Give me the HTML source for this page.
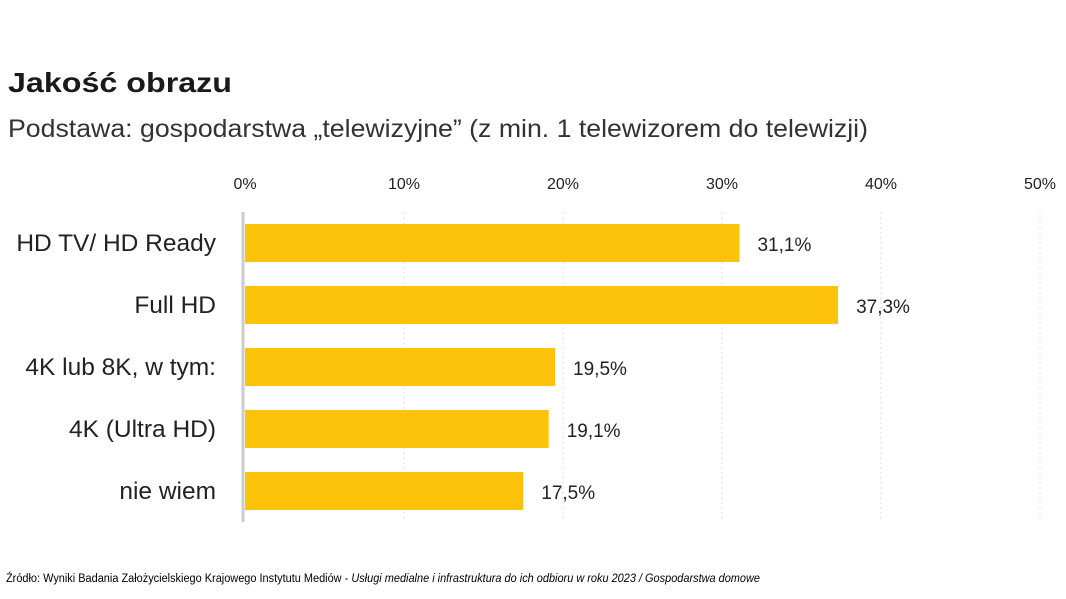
<!DOCTYPE html>
<html><head><meta charset="utf-8"><style>
body{margin:0;width:1066px;height:599px;background:#fff;overflow:hidden;font-family:"Liberation Sans",sans-serif}
svg{position:absolute;left:0;top:0}
</style></head><body>
<svg width="1066" height="599">
<text x="8" y="92" font-size="28" font-weight="bold" fill="#1a1a1a" textLength="224" lengthAdjust="spacingAndGlyphs">Jakość obrazu</text>
<text x="8" y="137" font-size="25" fill="#333" textLength="860" lengthAdjust="spacingAndGlyphs">Podstawa: gospodarstwa „telewizyjne” (z min. 1 telewizorem do telewizji)</text>
<g id="grid"></g><g id="bars"></g>
<text x="6" y="582" font-size="11.5" fill="#000" textLength="754" lengthAdjust="spacingAndGlyphs">Źródło: Wyniki Badania Założycielskiego Krajowego Instytutu Mediów - <tspan font-style="italic">Usługi medialne i infrastruktura do ich odbioru w roku 2023 / Gospodarstwa domowe</tspan></text>
</svg>
<script>
const categories=["HD TV/ HD Ready","Full HD","4K lub 8K, w tym:","4K (Ultra HD)","nie wiem"];
const values=[31.1,37.3,19.5,19.1,17.5];
const ticks=[0,10,20,30,40,50];
const NS="http://www.w3.org/2000/svg";
const x=v=>245+v*15.9;
const y=i=>243+i*62;
function mk(t,a,p){const e=document.createElementNS(NS,t);for(const k in a)e.setAttribute(k,a[k]);p.appendChild(e);return e;}
const g=document.getElementById('grid'),b=document.getElementById('bars');
ticks.forEach(t=>{
 if(t>0){const l=mk('line',{x1:x(t),x2:x(t),y1:212,y2:522,stroke:'#ddd','stroke-dasharray':'2,3'},g);
 
 }
 const tx=mk('text',{x:x(t),y:189,'font-size':16,'text-anchor':'middle',fill:'#222'},g);
 tx.textContent=t+'%';
 
 
});
const ax=mk('line',{x1:243,x2:243,y1:212,y2:522,stroke:'#ccc','stroke-width':3},g);


categories.forEach((c,i)=>{
 const r=mk('rect',{x:x(0),y:y(i)-19,width:x(values[i])-x(0),height:38,fill:'#FDC20A'},b);
 
 
 const l=mk('text',{x:216,y:y(i)+8,'font-size':24.5,'text-anchor':'end',fill:'#222'},b);
 l.textContent=c;
 
 
 const v=mk('text',{x:x(values[i])+18,y:y(i)+8,'font-size':19,fill:'#222'},b);
 v.textContent=values[i].toFixed(1).replace('.',',')+'%';
 
 
});
</script>
</body></html>
